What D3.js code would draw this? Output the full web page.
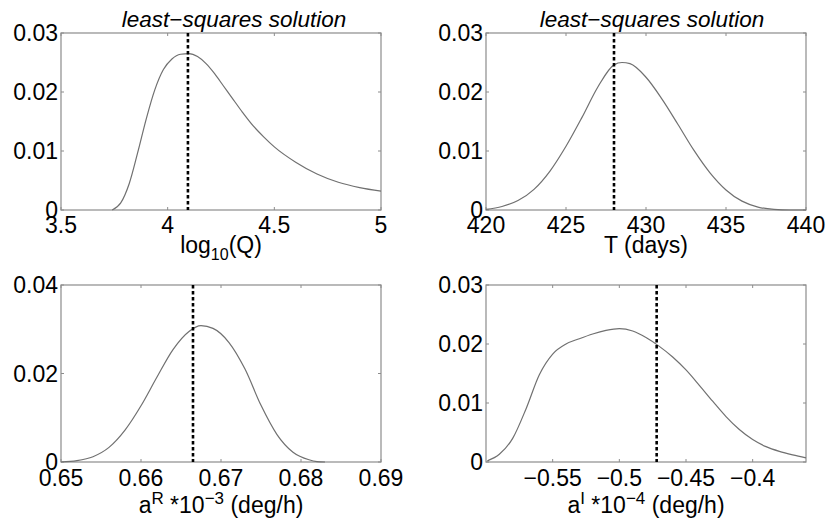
<!DOCTYPE html>
<html>
<head>
<meta charset="utf-8">
<script src="https://cdn.jsdelivr.net/npm/d3@7"></script>
<style>
  body { margin: 0; background: #fff; }
  svg text { font-family: "Liberation Sans", Arial, Helvetica, sans-serif; fill: #000; }
</style>
</head>
<body>
<div id="chart"></div>
<script>
// Panel 1: log10(Q)
const qX = [3.74, 3.78, 3.82, 3.86, 3.90, 3.94, 3.98, 4.02, 4.06, 4.10, 4.14, 4.18, 4.22, 4.26, 4.30, 4.35, 4.40, 4.45, 4.50, 4.60, 4.70, 4.80, 4.90, 5.00];
const qY = [0, 0.0012, 0.0045, 0.0098, 0.0155, 0.0204, 0.0238, 0.0256, 0.0264, 0.0265, 0.026, 0.0248, 0.0231, 0.0211, 0.0191, 0.0166, 0.0143, 0.0124, 0.0107, 0.0081, 0.0061, 0.0047, 0.0038, 0.0032];
// Panel 2: T (days)
const tX = [420, 421, 422, 423, 424, 425, 426, 427, 428, 428.5, 429, 430, 431, 432, 433, 434, 435, 436, 437, 438, 439, 440];
const tY = [0.0001, 0.0006, 0.0016, 0.0035, 0.0066, 0.0108, 0.0157, 0.0209, 0.0246, 0.025, 0.0248, 0.0225, 0.0188, 0.0145, 0.0101, 0.0063, 0.0034, 0.0015, 0.0005, 0.0001, 0, 0];
// Panel 3: aR
const arX = [0.650, 0.652, 0.654, 0.656, 0.658, 0.660, 0.662, 0.664, 0.666, 0.6675, 0.669, 0.671, 0.673, 0.675, 0.677, 0.679, 0.681, 0.682, 0.683];
const arY = [0, 0.0003, 0.0012, 0.0033, 0.0072, 0.0127, 0.0192, 0.0254, 0.0295, 0.0308, 0.0302, 0.027, 0.021, 0.0128, 0.0062, 0.0022, 0.0005, 0.0001, 0];
// Panel 4: aI
const aiX = [-0.599, -0.59, -0.58, -0.57, -0.56, -0.55, -0.54, -0.53, -0.52, -0.51, -0.50, -0.49, -0.48, -0.47, -0.46, -0.45, -0.44, -0.43, -0.42, -0.41, -0.40, -0.39, -0.38, -0.37, -0.36];
const aiY = [0.0002, 0.0013, 0.004, 0.009, 0.0148, 0.0183, 0.02, 0.0209, 0.0217, 0.0223, 0.0226, 0.0222, 0.0211, 0.0196, 0.0178, 0.0156, 0.013, 0.0103, 0.0077, 0.0055, 0.0038, 0.0026, 0.0018, 0.0012, 0.0007];

// least-squares solutions (dashed lines)
const lsq = [4.095, 428.0, 0.6665, -0.472];

// tick values
const qTicks = [3.5, 4, 4.5, 5];
const tTicks = [420, 425, 430, 435, 440];
const arTicks = [0.65, 0.66, 0.67, 0.68, 0.69];
const aiTicks = [-0.55, -0.5, -0.45, -0.4];
const yTicks3 = [0, 0.01, 0.02, 0.03];
const yTicks4 = [0, 0.02, 0.04];

const W = 830, H = 525;
const pw = 320, ph = 177;

const panels = [
  {left: 61, top: 33, xs: qX, ys: qY, xdom: [3.5, 5], ydom: [0, 0.03], xt: qTicks, yt: yTicks3,
   xfmt: d => d3.format("")(d), title: 13, label: "log", ls: lsq[0]},
  {left: 486, top: 33, xs: tX, ys: tY, xdom: [420, 440], ydom: [0, 0.03], xt: tTicks, yt: yTicks3,
   xfmt: d => d, title: 6, label: "T", ls: lsq[1]},
  {left: 61, top: 285, xs: arX, ys: arY, xdom: [0.65, 0.69], ydom: [0, 0.04], xt: arTicks, yt: yTicks4,
   xfmt: d => d3.format(".2f")(d), title: null, label: "aR", ls: lsq[2]},
  {left: 486, top: 285, xs: aiX, ys: aiY, xdom: [-0.6, -0.36], ydom: [0, 0.03], xt: aiTicks, yt: yTicks3,
   xfmt: d => String(d).replace("-", "\u2212"), title: null, label: "aI", ls: lsq[3]}
];

const svg = d3.select("#chart").append("svg")
  .attr("width", W)
  .attr("height", H);

const yfmt = d => d === 0 ? "0" : d3.format(".2f")(d);
const axisCol = "#8c8c8c";

panels.forEach(p => {
  const g = svg.append("g").attr("transform", `translate(${p.left},${p.top})`);
  const x = d3.scaleLinear().domain(p.xdom).range([0, pw]);
  const y = d3.scaleLinear().domain(p.ydom).range([ph, 0]);
  const sup = p.label === "aR" || p.label === "aI";

  // frame
  g.append("rect")
    .attr("width", pw).attr("height", ph)
    .attr("fill", "none").attr("stroke", axisCol).attr("stroke-width", 1.2);

  // ticks (inside, on all four sides)
  const tl = 3;
  p.xt.forEach(t => {
    const xx = x(t);
    g.append("line").attr("x1", xx).attr("x2", xx).attr("y1", ph).attr("y2", ph - tl).attr("stroke", axisCol);
    g.append("line").attr("x1", xx).attr("x2", xx).attr("y1", 0).attr("y2", tl).attr("stroke", axisCol);
    g.append("text")
      .attr("x", xx).attr("y", ph + (sup ? 24 : 23))
      .attr("text-anchor", "middle")
      .style("font-size", "23px")
      .text(p.xfmt(t));
  });
  p.yt.forEach(t => {
    const yy = y(t);
    g.append("line").attr("x1", 0).attr("x2", tl).attr("y1", yy).attr("y2", yy).attr("stroke", axisCol);
    g.append("line").attr("x1", pw).attr("x2", pw - tl).attr("y1", yy).attr("y2", yy).attr("stroke", axisCol);
    g.append("text")
      .attr("x", -3).attr("y", yy + 8)
      .attr("text-anchor", "end")
      .style("font-size", "23px")
      .text(yfmt(t));
  });

  // density curve
  const line = d3.line()
    .x(d => x(d[0]))
    .y(d => y(d[1]))
    .curve(d3.curveMonotoneX);
  g.append("path")
    .datum(p.xs.map((v, i) => [v, p.ys[i]]))
    .attr("fill", "none")
    .attr("stroke", "#707070")
    .attr("stroke-width", 1.2)
    .attr("d", line);

  // least-squares solution
  g.append("line")
    .attr("x1", x(p.ls)).attr("x2", x(p.ls))
    .attr("y1", 0).attr("y2", ph)
    .attr("stroke", "#000")
    .attr("stroke-width", 2.6)
    .attr("stroke-dasharray", "3.5,2.5");

  if (p.title !== null) {
    g.append("text")
      .attr("x", pw / 2 + p.title).attr("y", -6.5)
      .attr("text-anchor", "middle")
      .style("font-size", "22.5px")
      .style("font-style", "italic")
      .text("least\u2212squares solution");
  }

  // x label
  const lab = g.append("text")
    .attr("x", pw / 2).attr("y", ph + (sup ? 51 : 43))
    .attr("text-anchor", "middle")
    .style("font-size", "23px");
  if (p.label === "log") {
    lab.append("tspan").text("log");
    lab.append("tspan").attr("dy", 7).style("font-size", "16px").text("10");
    lab.append("tspan").attr("dy", -7).text("(Q)");
  } else if (p.label === "T") {
    lab.text("T (days)");
  } else {
    const s = p.label === "aR" ? "R" : "I";
    const ex = p.label === "aR" ? "\u22123" : "\u22124";
    lab.append("tspan").text("a");
    lab.append("tspan").attr("dy", -9).style("font-size", "17px").text(s);
    lab.append("tspan").attr("dy", 9).text(" *10");
    lab.append("tspan").attr("dy", -9).style("font-size", "17px").text(ex);
    lab.append("tspan").attr("dy", 9).text(" (deg/h)");
  }
});
</script>
</body>
</html>
